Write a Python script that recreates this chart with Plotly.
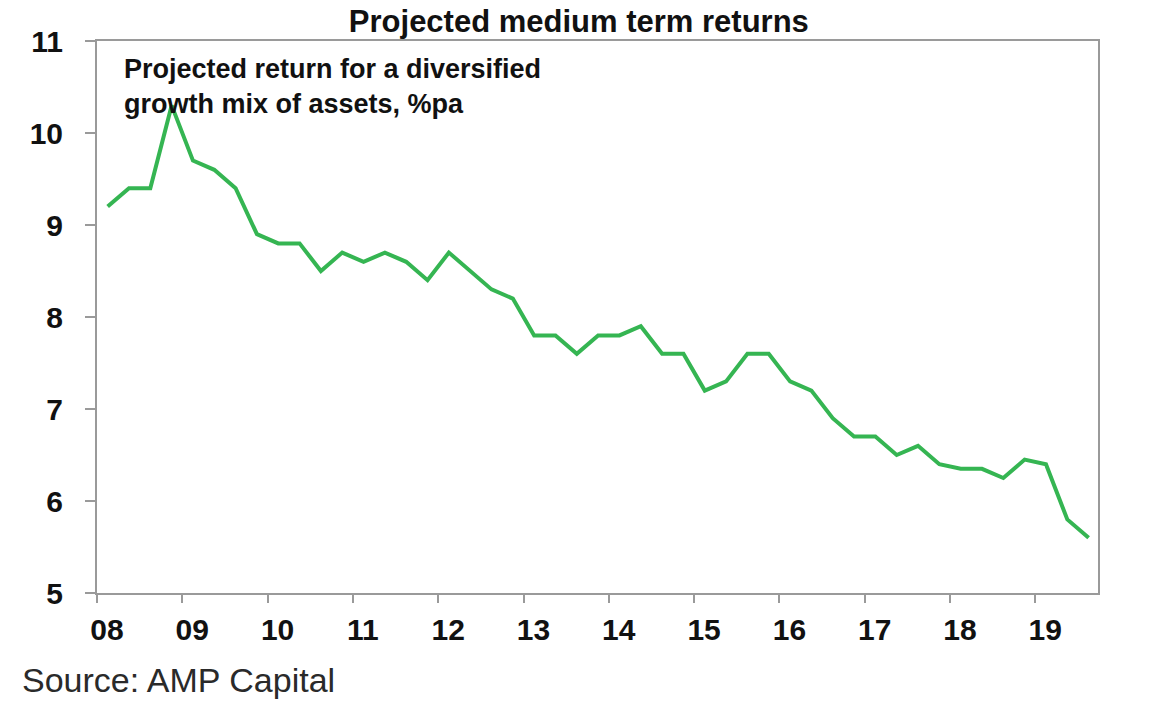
import plotly.graph_objects as go

# quarterly observations, first one in Q1 2008
start_year = 2008.125
step = 0.25
returns = [9.2, 9.4, 9.4, 10.3, 9.7, 9.6, 9.4, 8.9, 8.8, 8.8,
           8.5, 8.7, 8.6, 8.7, 8.6, 8.4, 8.7, 8.5, 8.3, 8.2,
           7.8, 7.8, 7.6, 7.8, 7.8, 7.9, 7.6, 7.6, 7.2, 7.3,
           7.6, 7.6, 7.3, 7.2, 6.9, 6.7, 6.7, 6.5, 6.6, 6.4,
           6.35, 6.35, 6.25, 6.45, 6.4, 5.8, 5.6]
years = [start_year + step * i for i in range(len(returns))]

tick_vals = list(range(2008, 2020))
tick_text = ["08", "09", "10", "11", "12", "13", "14", "15", "16", "17", "18", "19"]
y_ticks = [5, 6, 7, 8, 9, 10, 11]

font = "Liberation Sans, Arial, sans-serif"
axis_grey = "#9a9a9a"
ink = "#111111"

fig = go.Figure()
fig.add_trace(go.Scatter(
    x=years, y=returns, mode="lines",
    line=dict(color="#35b552", width=4),
    showlegend=False,
))

fig.update_layout(
    width=1160, height=704,
    margin=dict(l=97, r=62, t=41, b=111),
    paper_bgcolor="white", plot_bgcolor="white",
    font=dict(family=font, color=ink),
    title=dict(text="<b>Projected medium term returns</b>", xref="container", x=0.499,
               xanchor="center", y=0.970, yanchor="middle",
               font=dict(size=31, color=ink)),
    annotations=[
        dict(text="<b>Projected return for a diversified<br>growth mix of assets, %pa</b>",
             xref="paper", yref="paper", x=0.025, y=0.918, xanchor="left", yanchor="middle",
             align="left", showarrow=False, font=dict(size=27, color=ink)),
        dict(text="Source: AMP Capital", xref="paper", yref="paper",
             x=-0.077, y=-0.158, xanchor="left", yanchor="middle",
             showarrow=False, font=dict(size=34, color="#2a2a2a")),
    ],
)

fig.update_xaxes(
    range=[2008, 2019.735], tickvals=tick_vals,
    ticktext=["<b>%s</b>" % t for t in tick_text],
    ticks="outside", ticklen=8, tickcolor=axis_grey, tickwidth=1.5,
    showline=True, linecolor=axis_grey, linewidth=2, mirror=True,
    showgrid=False, zeroline=False, ticklabelshift=10, ticklabelstandoff=1,
    tickfont=dict(size=30, family=font, color=ink),
)
fig.update_yaxes(
    range=[5, 11], tickvals=y_ticks,
    ticktext=["<b>%d</b>" % v for v in y_ticks],
    ticks="outside", ticklen=10, tickcolor=axis_grey, tickwidth=1.5,
    showline=True, linecolor=axis_grey, linewidth=2, mirror=True,
    showgrid=False, zeroline=False, ticklabelstandoff=16,
    tickfont=dict(size=30, family=font, color=ink),
)

# drop the page's default body margin so the figure sits at the window corner
fig.write_html("out.html", config={"displayModeBar": False},
               post_script="document.body.style.margin='0';")
